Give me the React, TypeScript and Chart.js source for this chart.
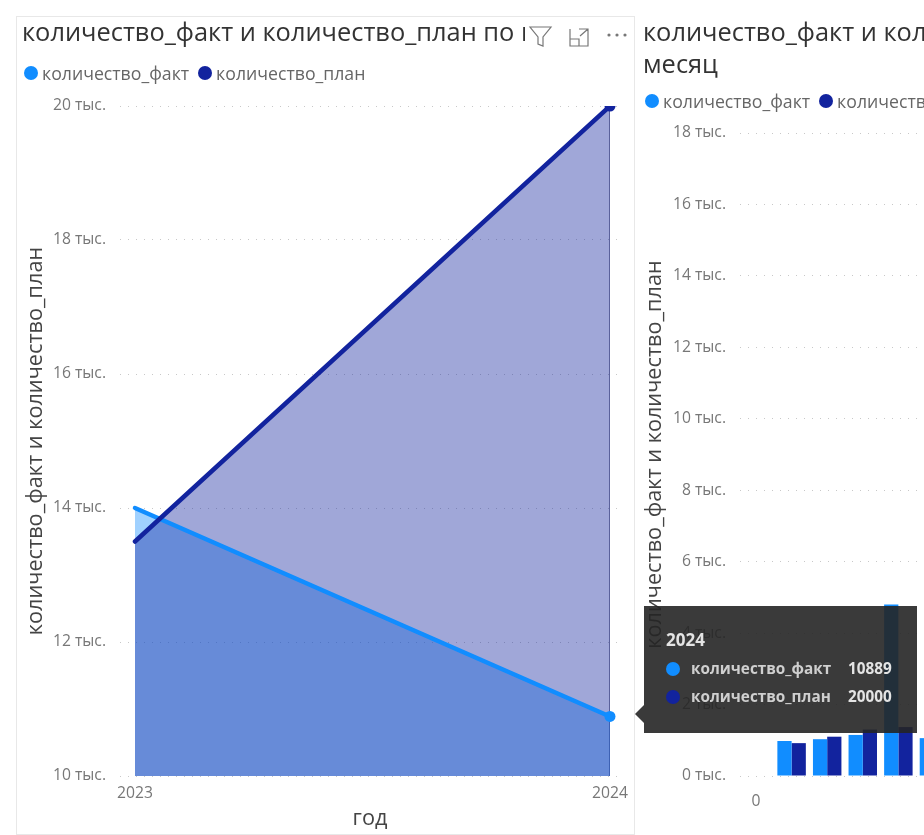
import React, { useEffect, useRef } from "react";
import { Chart, registerables } from "chart.js";

Chart.register(...registerables);

const FONT = '"Open Sans", "Noto Sans", sans-serif';
const FACT = "#118DFF";
const PLAN = "#12239E";

const years = [2023, 2024];
const yearFact = [14000, 10889];
const yearPlan = [13500, 20000];

const months = [1, 2, 3, 4, 5];
const monthFact = [980, 1030, 1150, 4800, 1060];
const monthPlan = [920, 1100, 1300, 1370, 1100];

const seriesNames = ["количество_факт", "количество_план"];
const titleLeft = "количество_факт и количество_план по год";
const titleRight = "количество_факт и количество_план по месяц";
const axisTitleY = "количество_факт и количество_план";
const yearTicks = [10000, 12000, 14000, 16000, 18000, 20000];
const monthTicks = [0, 2000, 4000, 6000, 8000, 10000, 12000, 14000, 16000, 18000];

const fmt = (v: any) => `${Number(v) / 1000} тыс.`;
const asTicks = (vals: number[]) => (s: any) => {
  s.ticks = vals.map((value) => ({ value }));
};
const fitX = (s: any) => {
  s.height = 58;
  s.paddingLeft = 0;
  s.paddingRight = 0;
};

function yAxis(vals: number[], width: number, min: number, max: number, titlePad: number) {
  return {
    min,
    max,
    afterBuildTicks: asTicks(vals),
    afterFit: (s: any) => {
      s.width = width;
      s.paddingTop = 0;
      s.paddingBottom = 0;
    },
    border: { display: false, dash: [1, 7] },
    grid: { color: "#c8c8c8", lineWidth: 1, drawTicks: false },
    ticks: {
      callback: fmt,
      color: "#777777",
      padding: 14,
      autoSkip: false,
      font: { family: FONT, size: 15.7 },
    },
    title: {
      display: true,
      text: axisTitleY,
      color: "#444444",
      font: { family: FONT, size: 21.7 },
      padding: { top: titlePad, bottom: 0 },
    },
  };
}

function useChart(build: () => any) {
  const ref = useRef<HTMLCanvasElement | null>(null);
  useEffect(() => {
    const chart = new Chart(ref.current as HTMLCanvasElement, build());
    return () => chart.destroy();
  }, []);
  return ref;
}

function Legend({ left, top }: { left: number; top: number }) {
  return (
    <div style={{ position: "absolute", left, top, display: "flex", alignItems: "center", height: 20, whiteSpace: "nowrap", font: `17.7px ${FONT}`, color: "#666" }}>
      {seriesNames.map((n, i) => (
        <span key={n} style={{ display: "flex", alignItems: "center", marginRight: 9 }}>
          <span style={{ width: 14, height: 14, borderRadius: 7, background: i ? PLAN : FACT, marginRight: 4 }} />
          {n}
        </span>
      ))}
    </div>
  );
}

export default function App() {
  const leftRef = useChart(() => ({
    type: "line",
    data: {
      labels: years,
      datasets: [
        {
          label: seriesNames[0],
          order: 2,
          data: years.map((x, i) => ({ x, y: yearFact[i] })),
          borderColor: FACT,
          backgroundColor: "rgba(17,141,255,0.4)",
          borderWidth: 4.5,
          fill: "start",
          tension: 0,
          pointRadius: [0, 5.5],
          pointBackgroundColor: FACT,
          pointBorderWidth: 0,
          borderCapStyle: "round",
        },
        {
          label: seriesNames[1],
          order: 1,
          data: years.map((x, i) => ({ x, y: yearPlan[i] })),
          borderColor: PLAN,
          backgroundColor: "rgba(18,35,158,0.4)",
          borderWidth: 4.5,
          fill: "start",
          tension: 0,
          pointRadius: [0, 5.5],
          pointBackgroundColor: PLAN,
          pointBorderWidth: 0,
          borderCapStyle: "round",
        },
      ],
    },
    options: {
      animation: false,
      responsive: false,
      devicePixelRatio: 1,
      layout: { padding: { top: 90, right: 14, left: 0, bottom: 0 } },
      plugins: { legend: { display: false }, tooltip: { enabled: false }, filler: { drawTime: "beforeDatasetsDraw" } },
      scales: {
        x: {
          type: "linear",
          min: 2022.9684,
          max: 2024.0211,
          afterBuildTicks: asTicks(years),
          afterFit: fitX,
          border: { display: false },
          grid: {
            drawTicks: false,
            color: (c: any) => (c.tick && c.tick.value === 2024 ? "#8a8a9a" : "rgba(0,0,0,0)"),
          },
          ticks: {
            callback: (v: any) => String(v),
            color: "#777777",
            padding: 8,
            maxRotation: 0,
            font: { family: FONT, size: 15.7 },
          },
          title: {
            display: true,
            text: "год",
            color: "#444444",
            font: { family: FONT, size: 21.7 },
            padding: { top: 0, bottom: 2 },
          },
        },
        y: yAxis(yearTicks, 104, 10000, 20000, 7),
      },
    },
  }));

  const rightRef = useChart(() => ({
    type: "bar",
    data: {
      datasets: [
        { label: seriesNames[0], data: months.map((x, i) => ({ x, y: monthFact[i] })), backgroundColor: FACT },
        { label: seriesNames[1], data: months.map((x, i) => ({ x, y: monthPlan[i] })), backgroundColor: PLAN },
      ],
    },
    options: {
      animation: false,
      responsive: false,
      devicePixelRatio: 1,
      layout: { padding: { top: 117, right: 0, left: 0, bottom: 0 } },
      plugins: { legend: { display: false }, tooltip: { enabled: false } },
      datasets: { bar: { categoryPercentage: 0.8, barPercentage: 1 } },
      scales: {
        x: {
          type: "linear",
          offset: false,
          min: -0.45,
          max: 7.98,
          afterBuildTicks: asTicks([0, 5]),
          afterFit: fitX,
          border: { display: false },
          grid: { display: false },
          ticks: {
            callback: (v: any) => String(v),
            color: "#777777",
            padding: 8,
            maxRotation: 0,
            font: { family: FONT, size: 15.7 },
          },
        },
        y: yAxis(monthTicks, 100, 0, 18000, 2),
      },
    },
  }));

  const titleStyle: React.CSSProperties = {
    position: "absolute",
    font: `25.4px/32px ${FONT}`,
    color: "#333",
    overflow: "hidden",
    whiteSpace: "nowrap",
  };

  return (
    <div style={{ position: "fixed", left: 0, top: 0, width: 924, height: 835, overflow: "hidden", background: "#fff" }}>
      <div style={{ position: "absolute", left: 16, top: 16, width: 617, height: 817, border: "1px solid #e8e8e8" }} />
      <canvas ref={leftRef} width={618} height={818} style={{ position: "absolute", left: 16, top: 16 }} />
      <canvas ref={rightRef} width={400} height={818} style={{ position: "absolute", left: 640, top: 16 }} />

      <div style={{ ...titleStyle, left: 22, top: 15, width: 503 }}>{titleLeft}</div>
      <div style={{ ...titleStyle, left: 643, top: 15, width: 281, whiteSpace: "normal", height: 64 }}>
        <div style={{ whiteSpace: "nowrap" }}>{titleRight.replace(" месяц", "")}</div>
        <div>месяц</div>
      </div>
      <Legend left={24} top={63} />
      <Legend left={645} top={91} />

      <svg width="110" height="30" style={{ position: "absolute", left: 525, top: 22 }} fill="none" stroke="#777" strokeWidth="1.2">
        <path d="M5 5 H26 L18 15 V24 L13 22 V15 Z" />
        <path d="M45 7 V24 H63 V7 H54 M45 17 H54 V24 M55 14 L63 7 M58 7 H63 V12" />
        <circle cx="84" cy="13" r="1" fill="#555" />
        <circle cx="92" cy="13" r="1" fill="#555" />
        <circle cx="100" cy="13" r="1" fill="#555" />
      </svg>

      <div style={{ position: "absolute", left: 644, top: 606, width: 273, height: 127, background: "rgba(37,37,37,0.9)", color: "#e4e4e4", font: `bold 15.3px ${FONT}` }}>
        <div style={{ position: "absolute", left: -9, top: 99, width: 0, height: 0, borderTop: "9px solid transparent", borderBottom: "9px solid transparent", borderRight: "9px solid rgba(37,37,37,0.9)" }} />
        <div style={{ position: "absolute", left: 22, top: 22, fontSize: 17 }}>{years[1]}</div>
        {seriesNames.map((n, i) => (
          <React.Fragment key={n}>
            <span style={{ position: "absolute", left: 22, top: 56 + i * 28, width: 14, height: 14, borderRadius: 7, background: i ? PLAN : FACT }} />
            <span style={{ position: "absolute", left: 47, top: 52 + i * 28, color: "#cfcfcf", whiteSpace: "nowrap" }}>{n}</span>
            <span style={{ position: "absolute", left: 204, top: 52 + i * 28 }}>{i ? yearPlan[1] : yearFact[1]}</span>
          </React.Fragment>
        ))}
      </div>
    </div>
  );
}
